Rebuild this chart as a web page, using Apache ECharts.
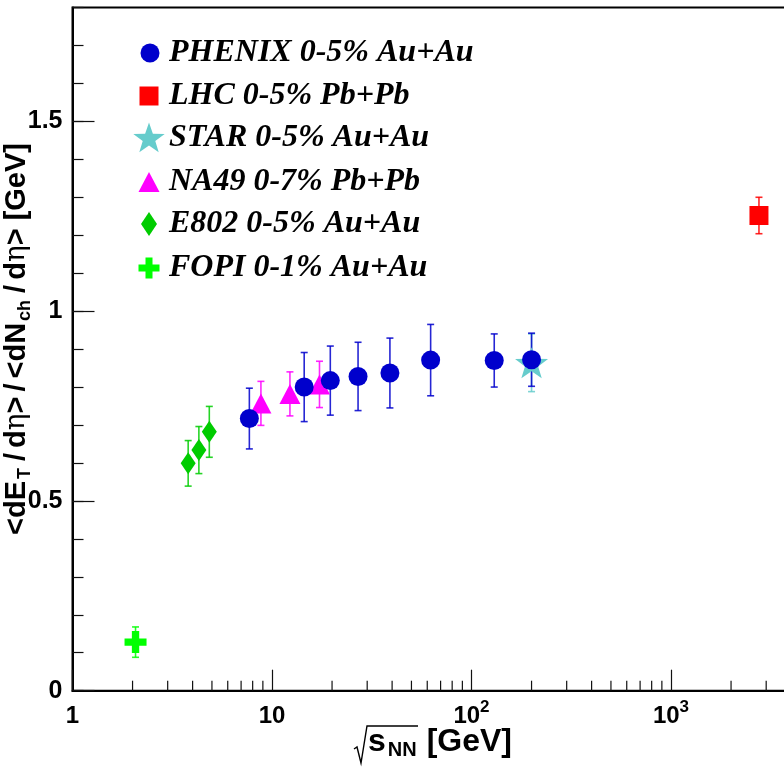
<!DOCTYPE html>
<html>
<head>
<meta charset="utf-8">
<script src="https://cdn.jsdelivr.net/npm/echarts@6/dist/echarts.min.js"></script>
<style>
  html, body { margin: 0; padding: 0; background: #fff; overflow: hidden; }
  /* the frame continues past the right edge of the window */
  #chart { width: 900px; height: 768px; }
</style>
</head>
<body>
<div id="chart"></div>
<script>
// Transverse energy per charged particle vs collision energy
const phenixEnergy = [7.7, 14.5, 19.6, 27, 39, 62.4, 130, 200];
const phenixValue  = [0.717, 0.800, 0.817, 0.828, 0.837, 0.871, 0.870, 0.872];
const phenixError  = [0.080, 0.091, 0.091, 0.090, 0.092, 0.094, 0.070, 0.070];

const lhcEnergy = [2760];
const lhcValue  = [1.252];
const lhcError  = [0.048];

const starEnergy = [200];
const starValue  = [0.864];
const starError  = [0.076];

const na49Energy = [8.8, 12.3, 17.3];
const na49Value  = [0.757, 0.782, 0.807];
const na49Error  = [0.058, 0.058, 0.061];

const e802Energy = [3.8, 4.3, 4.85];
const e802Value  = [0.599, 0.634, 0.682];
const e802Error  = [0.060, 0.062, 0.067];

const fopiEnergy = [2.07];
const fopiValue  = [0.128];
const fopiError  = [0.040];

const xMinorTicks = [2, 3, 4, 5, 6, 7, 8, 9, 20, 30, 40, 50, 60, 70, 80, 90,
                     200, 300, 400, 500, 600, 700, 800, 900, 2000, 3000, 4000, 5000, 6000, 7000, 8000, 9000];

const legendNames = ['PHENIX 0-5% Au+Au', 'LHC 0-5% Pb+Pb', 'STAR 0-5% Au+Au',
                     'NA49 0-7% Pb+Pb', 'E802 0-5% Au+Au', 'FOPI 0-1% Au+Au'];

const C_PHENIX = '#0000cc', C_LHC = '#ff0000', C_STAR = '#66cccc',
      C_NA49 = '#ff00ff', C_E802 = '#00cc00', C_FOPI = '#00ff00';

// five-pointed star outline
function starPoints(cx, cy, R, r) {
  const pts = [];
  for (let i = 0; i < 10; i++) {
    const rad = i % 2 === 0 ? R : r;
    const a = -Math.PI / 2 + i * Math.PI / 5;
    pts.push([cx + rad * Math.cos(a), cy + rad * Math.sin(a)]);
  }
  return pts;
}
const starPath = 'path://' + starPoints(50, 50, 50, 20)
  .map((p, i) => (i ? 'L' : 'M') + p[0].toFixed(2) + ',' + p[1].toFixed(2)).join('') + 'Z';
const crossPath = 'path://M1,0H2V1H3V2H2V3H1V2H0V1H1Z';

function errorSeries(xs, ys, es, color) {
  return {
    type: 'custom', silent: true, clip: false,
    data: xs.map((x, i) => [x, ys[i] - es[i], ys[i] + es[i]]),
    encode: { x: 0, y: [1, 2] },
    renderItem(params, api) {
      const lo = api.coord([api.value(0), api.value(1)]);
      const hi = api.coord([api.value(0), api.value(2)]);
      const cap = 3.5;
      const st = { stroke: color, lineWidth: 1.6, opacity: 0.85 };
      return {
        type: 'group', children: [
          { type: 'line', shape: { x1: lo[0], y1: lo[1], x2: hi[0], y2: hi[1] }, style: st },
          { type: 'line', shape: { x1: lo[0] - cap, y1: lo[1], x2: lo[0] + cap, y2: lo[1] }, style: st },
          { type: 'line', shape: { x1: hi[0] - cap, y1: hi[1], x2: hi[0] + cap, y2: hi[1] }, style: st }
        ]
      };
    }
  };
}

function markerSeries(xs, ys, symbol, size, color) {
  return {
    type: 'scatter', silent: true,
    data: xs.map((x, i) => [x, ys[i]]),
    symbol: symbol, symbolSize: size,
    itemStyle: { color: color, opacity: 1 }
  };
}

const minorTickSeries = {
  type: 'custom', silent: true, clip: false,
  data: xMinorTicks.map(v => [v]),
  encode: { x: 0 },
  renderItem(params, api) {
    const p = api.coord([api.value(0), 0]);
    return { type: 'line', shape: { x1: p[0], y1: p[1], x2: p[0], y2: p[1] - 10 },
             style: { stroke: '#111', lineWidth: 1.2 } };
  }
};

const sansBold = { fontFamily: 'Liberation Sans', fontWeight: 'bold', color: '#000' };

// legend block
const legendX = 149, legendTextX = 169;
const legendY = [53, 96, 138, 182, 224, 268];
const legendGraphics = [
  { type: 'circle', shape: { cx: legendX + 1, cy: legendY[0], r: 9.5 }, style: { fill: C_PHENIX } },
  { type: 'rect', shape: { x: legendX - 9.5, y: legendY[1] - 9.5, width: 19, height: 19 }, style: { fill: C_LHC } },
  { type: 'polygon', shape: { points: starPoints(legendX, legendY[2] + 1, 16.5, 6.6) }, style: { fill: C_STAR } },
  { type: 'polygon', shape: { points: [[legendX, legendY[3] - 10], [legendX + 10.5, legendY[3] + 10], [legendX - 10.5, legendY[3] + 10]] }, style: { fill: C_NA49 } },
  { type: 'polygon', shape: { points: [[legendX, legendY[4] - 12], [legendX + 8, legendY[4]], [legendX, legendY[4] + 12], [legendX - 8, legendY[4]]] }, style: { fill: C_E802 } },
  { type: 'polygon', shape: { points: [[legendX - 3.5, legendY[5] - 10.5], [legendX + 3.5, legendY[5] - 10.5], [legendX + 3.5, legendY[5] - 3.5], [legendX + 10.5, legendY[5] - 3.5], [legendX + 10.5, legendY[5] + 3.5], [legendX + 3.5, legendY[5] + 3.5], [legendX + 3.5, legendY[5] + 10.5], [legendX - 3.5, legendY[5] + 10.5], [legendX - 3.5, legendY[5] + 3.5], [legendX - 10.5, legendY[5] + 3.5], [legendX - 10.5, legendY[5] - 3.5], [legendX - 3.5, legendY[5] - 3.5]] }, style: { fill: C_FOPI } }
].concat(legendNames.map((t, i) => ({
  type: 'text', x: legendTextX, y: legendY[i],
  style: { text: t, fill: '#000', font: 'italic bold 32px "Liberation Serif"', verticalAlign: 'middle', align: 'left' }
})));

// axis titles
const yTitle = {
  type: 'text', x: 17, y: 143, rotation: Math.PI / 2,
  style: {
    text: '{m|<dE}{s|T}{sl|/}{m|d}{g|η}{m|>}{sl|/}{m|<dN}{s|ch}{sl|/}{m|d}{g|η}{m|> [GeV]}',
    align: 'right', verticalAlign: 'middle', fill: '#000',
    rich: {
      m: { fontSize: 29, fontWeight: 'bold', fontFamily: 'Liberation Sans', lineHeight: 34 },
      sl: { fontSize: 29, fontWeight: 'bold', fontFamily: 'Liberation Sans', lineHeight: 34, padding: [0, 5, 0, 5] },
      s: { fontSize: 18, fontWeight: 'bold', fontFamily: 'Liberation Sans', lineHeight: 18, verticalAlign: 'bottom', padding: [0, 2, 0, 2] },
      g: { fontSize: 28, fontFamily: 'DejaVu Serif', lineHeight: 34 }
    }
  }
};
const xTitle = [
  { type: 'polyline', shape: { points: [[354, 749], [357, 747], [361, 763], [367, 726], [418, 726]] },
    style: { stroke: '#000', lineWidth: 1.4, fill: null } },
  { type: 'text', x: 368, y: 724, style: {
      text: '{m|s}{s|NN}{m|[GeV]}', align: 'left', verticalAlign: 'top', fill: '#000',
      rich: {
        m: { fontSize: 32, fontWeight: 'bold', fontFamily: 'Liberation Sans', lineHeight: 36 },
        s: { fontSize: 20, fontWeight: 'bold', fontFamily: 'Liberation Sans', lineHeight: 22, verticalAlign: 'bottom', padding: [0, 10, 0, 2] }
      } } }
];

const chart = echarts.init(document.getElementById('chart'), null, { renderer: 'canvas' });
chart.setOption({
  animation: false,
  backgroundColor: '#fff',
  grid: { left: 72.5, top: 7.5, width: 798, height: 683.2, show: true, borderColor: '#000', borderWidth: 2, backgroundColor: 'transparent' },
  xAxis: {
    type: 'log', logBase: 10, min: 1, max: 10000,
    axisLine: { lineStyle: { color: '#000', width: 2 } },
    axisTick: { inside: true, length: 21, lineStyle: { color: '#111', width: 1.2 } },
    splitLine: { show: false },
    axisLabel: {
      margin: 8, showMaxLabel: false,
      formatter(v) {
        const e = Math.round(Math.log10(v));
        if (e < 2) return '{m|' + Math.round(v) + '}';
        return '{m|10}{p|' + e + '}';
      },
      rich: {
        m: Object.assign({ fontSize: 24, lineHeight: 36 }, sansBold),
        p: Object.assign({ fontSize: 17, lineHeight: 10, verticalAlign: 'top' }, sansBold)
      }
    }
  },
  yAxis: [{
    type: 'value', min: 0, max: 1.8, interval: 0.5, position: 'left',
    axisLine: { lineStyle: { color: '#000', width: 2 } },
    axisTick: { inside: true, length: 22, lineStyle: { color: '#111', width: 1.2 } },
    splitLine: { show: false },
    axisLabel: Object.assign({ fontSize: 25, margin: 10, showMaxLabel: false,
      formatter: v => (Math.abs(v - 1.8) < 1e-6 ? '' : String(+v.toFixed(1))) }, sansBold)
  }, {
    type: 'value', min: 0, max: 1.8, interval: 0.1, position: 'left',
    axisLine: { show: false },
    axisTick: { inside: true, length: 11, lineStyle: { color: '#111', width: 1.2 } },
    axisLabel: { show: false },
    splitLine: { show: false }
  }],
  graphic: legendGraphics.concat([yTitle], xTitle),
  series: [
    minorTickSeries,
    errorSeries(fopiEnergy, fopiValue, fopiError, C_FOPI),
    markerSeries(fopiEnergy, fopiValue, crossPath, 22, C_FOPI),
    errorSeries(e802Energy, e802Value, e802Error, C_E802),
    markerSeries(e802Energy, e802Value, 'diamond', [15, 22], C_E802),
    errorSeries(na49Energy, na49Value, na49Error, C_NA49),
    markerSeries(na49Energy, na49Value, 'triangle', [21, 20], C_NA49),
    errorSeries(starEnergy, starValue, starError, C_STAR),
    markerSeries(starEnergy, starValue, starPath, [33, 31], C_STAR),
    errorSeries(lhcEnergy, lhcValue, lhcError, C_LHC),
    markerSeries(lhcEnergy, lhcValue, 'rect', 19, C_LHC),
    errorSeries(phenixEnergy, phenixValue, phenixError, C_PHENIX),
    markerSeries(phenixEnergy, phenixValue, 'circle', 19, C_PHENIX)
  ]
});
</script>
</body>
</html>
